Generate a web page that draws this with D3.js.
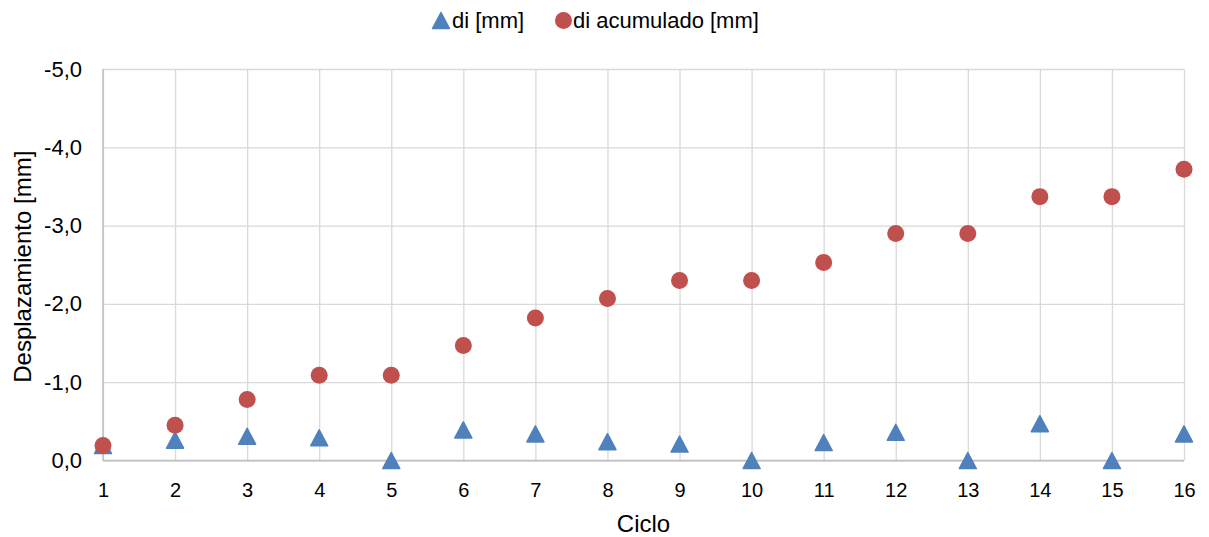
<!DOCTYPE html>
<html>
<head>
<meta charset="utf-8">
<script src="https://cdn.jsdelivr.net/npm/d3@7"></script>
<style>
  html, body { margin: 0; padding: 0; background: #fff; }
  svg { display: block; font-family: "Liberation Sans", Arial, sans-serif; }
</style>
</head>
<body>
<svg id="chart" width="1209" height="537"></svg>
<script>
// ---- data ----
const ciclos = [1, 2, 3, 4, 5, 6, 7, 8, 9, 10, 11, 12, 13, 14, 15, 16];
const di = [-0.19, -0.26, -0.31, -0.29, 0.0, -0.39, -0.34, -0.24, -0.21, 0.0, -0.23, -0.36, 0.0, -0.47, 0.0, -0.34];
const diAcumulado = [-0.19, -0.45, -0.78, -1.09, -1.09, -1.47, -1.82, -2.07, -2.30, -2.30, -2.53, -2.90, -2.90, -3.37, -3.37, -3.72];
const yTicks = [0, -1, -2, -3, -4, -5];
const seriesNames = ["di [mm]", "di acumulado [mm]"];
const xTitle = "Ciclo";
const yTitle = "Desplazamiento [mm]";

(function () {
// ---- layout ----
const pLeft = 103, pRight = 1184, pTop = 69, pBottom = 460.5;
const blue = "#4f81bd", red = "#c0504d";
const svg = d3.select("#chart");

const x = d3.scaleLinear().domain([1, 16]).range([pLeft, pRight]);
const y = d3.scaleLinear().domain([0, -5]).range([pBottom, pTop]);
const fmt = v => (v === 0 ? "0,0" : d3.format(".1f")(v).replace(".", ",").replace("\u2212", "-"));

// gridlines
svg.append("g")
  .attr("transform", `translate(0,${pBottom})`)
  .call(d3.axisBottom(x).tickValues(ciclos).tickSize(-(pBottom - pTop)).tickFormat(""))
  .call(g => g.select(".domain").remove())
  .call(g => g.selectAll("line").attr("stroke", "#d9d9d9").attr("stroke-width", 1.3));
svg.append("g")
  .attr("transform", `translate(${pLeft},0)`)
  .call(d3.axisLeft(y).tickValues(yTicks).tickSize(-(pRight - pLeft)).tickFormat(""))
  .call(g => g.select(".domain").remove())
  .call(g => g.selectAll("line").attr("stroke", "#d9d9d9").attr("stroke-width", 1.3));

// axis lines
svg.append("line").attr("x1", pLeft).attr("x2", pLeft).attr("y1", pTop).attr("y2", pBottom)
  .attr("stroke", "#bfbfbf").attr("stroke-width", 1.5);
svg.append("line").attr("x1", pLeft).attr("x2", pRight).attr("y1", pBottom).attr("y2", pBottom)
  .attr("stroke", "#bfbfbf").attr("stroke-width", 1.5);

// tick labels
const xAxis = svg.append("g")
  .attr("transform", `translate(0,${pBottom})`)
  .call(d3.axisBottom(x).tickValues(ciclos).tickSize(0).tickPadding(22).tickFormat(d3.format("d")));
xAxis.select(".domain").remove();
xAxis.selectAll("text").attr("font-size", 20).attr("fill", "#000")
  .attr("font-family", "'Liberation Sans', Arial, sans-serif");

const yAxis = svg.append("g")
  .attr("transform", `translate(${pLeft},0)`)
  .call(d3.axisLeft(y).tickValues(yTicks).tickSize(0).tickPadding(21).tickFormat(fmt));
yAxis.select(".domain").remove();
yAxis.selectAll("text").attr("font-size", 22).attr("fill", "#000")
  .attr("font-family", "'Liberation Sans', Arial, sans-serif");

// axis titles
svg.append("text").attr("x", (pLeft + pRight) / 2).attr("y", 532)
  .attr("text-anchor", "middle").attr("font-size", 24).attr("fill", "#000").text(xTitle);
svg.append("text").attr("transform", `translate(31,${(pTop + pBottom) / 2 + 2}) rotate(-90)`)
  .attr("text-anchor", "middle").attr("font-size", 24).attr("fill", "#000").text(yTitle);

// markers
const triW = 17, triH = 16, circR = 8.5;
const triPath = (cx, cy) => `M${cx},${cy - triH / 2}L${cx + triW / 2},${cy + triH / 2}L${cx - triW / 2},${cy + triH / 2}Z`;

svg.append("g").selectAll("path").data(ciclos.map((c, i) => [c, di[i]])).join("path")
  .attr("d", d => triPath(x(d[0]), y(d[1])))
  .attr("fill", blue).attr("stroke", blue).attr("stroke-width", 1.5).attr("stroke-linejoin", "round");

svg.append("g").selectAll("circle").data(ciclos.map((c, i) => [c, diAcumulado[i]])).join("circle")
  .attr("cx", d => x(d[0])).attr("cy", d => y(d[1])).attr("r", circR).attr("fill", red);

// legend
const lg = svg.append("g");
lg.append("path").attr("d", triPath(441, 20.5)).attr("fill", blue).attr("stroke", blue)
  .attr("stroke-width", 1.5).attr("stroke-linejoin", "round");
lg.append("text").attr("x", 452).attr("y", 28).attr("font-size", 22).attr("fill", "#000").text(seriesNames[0]);
lg.append("circle").attr("cx", 563.5).attr("cy", 20.5).attr("r", circR).attr("fill", red);
lg.append("text").attr("x", 573).attr("y", 28).attr("font-size", 22).attr("fill", "#000").text(seriesNames[1]);
})();
</script>
</body>
</html>
